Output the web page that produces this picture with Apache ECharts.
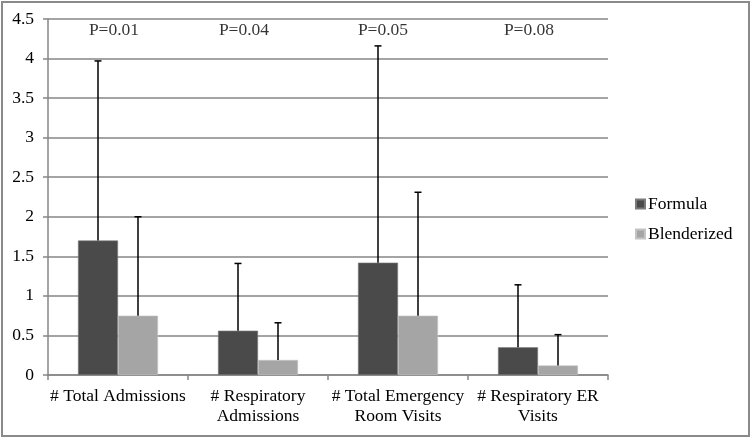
<!DOCTYPE html>
<html>
<head>
<meta charset="utf-8">
<script src="https://cdn.jsdelivr.net/npm/echarts@6/dist/echarts.min.js"></script>
<style>
html,body{margin:0;padding:0;background:#fff;}
#c{width:750px;height:437px;box-sizing:border-box;}
#frame{position:absolute;left:1px;top:1px;width:745px;height:432px;border:2px solid #8a8a8a;pointer-events:none;}
</style>
</head>
<body>
<div id="c"></div>
<div id="frame"></div>
<script>
var categories = ['# Total Admissions', '# Respiratory\nAdmissions', '# Total Emergency\nRoom Visits', '# Respiratory ER\nVisits'];
var formulaMean = [1.70, 0.56, 1.42, 0.35];
var formulaUpper = [3.97, 1.41, 4.16, 1.14];
var blendMean = [0.75, 0.19, 0.75, 0.12];
var blendUpper = [2.00, 0.66, 2.31, 0.51];
var pLabels = ['P=0.01', 'P=0.04', 'P=0.05', 'P=0.08'];
var pLabelY = 4.36;
var yTicks = [0, 0.5, 1, 1.5, 2, 2.5, 3, 3.5, 4, 4.5];

var FONT = '"Liberation Serif", "Times New Roman", serif';
var FS = 17.5;
var BAR_W = 40;
var pLabelShift = [-4, -14, -15, -9];

function errSeries(means, uppers, side) {
  return {
    type: 'custom',
    silent: true,
    z: 5,
    data: means.map(function (m, i) { return [i, m, uppers[i]]; }),
    renderItem: function (params, api) {
      var base = api.coord([api.value(0), api.value(1)]);
      var top = api.coord([api.value(0), api.value(2)]);
      var x = base[0] + side * BAR_W / 2;
      var cap = 3.5;
      return {
        type: 'group',
        children: [
          { type: 'line', shape: { x1: x, y1: base[1], x2: x, y2: top[1] }, style: { stroke: '#000', lineWidth: 1.5 } },
          { type: 'line', shape: { x1: x - cap, y1: top[1], x2: x + cap, y2: top[1] }, style: { stroke: '#000', lineWidth: 1.5 } }
        ]
      };
    }
  };
}

var chart = echarts.init(document.getElementById('c'));
chart.setOption({
  animation: false,
  backgroundColor: '#fff',
  textStyle: { fontFamily: FONT },
  grid: { left: 48, right: 142, top: 19, bottom: 62, containLabel: false },
  legend: {
    orient: 'vertical',
    left: 635,
    top: 195,
    padding: 0,
    itemWidth: 9,
    itemHeight: 9,
    itemGap: 12,
    icon: 'rect',
    data: ['Formula', 'Blenderized'],
    textStyle: { fontFamily: FONT, fontSize: FS, color: '#000', padding: [0, 0, 0, -2] }
  },
  xAxis: {
    type: 'category',
    data: categories,
    axisLine: { lineStyle: { color: '#868686', width: 1.5 } },
    axisTick: { show: true, length: 5, lineStyle: { color: '#868686', width: 1.5 } },
    axisLabel: { color: '#000', fontFamily: FONT, fontSize: FS, lineHeight: 20, margin: 11, interval: 0 }
  },
  yAxis: {
    type: 'value',
    min: 0,
    max: 4.5,
    interval: 0.5,
    axisLine: { show: true, lineStyle: { color: '#868686', width: 1.5 } },
    axisTick: { show: true, length: 5, lineStyle: { color: '#868686', width: 1.5 } },
    splitLine: { lineStyle: { color: '#868686', width: 1.5 } },
    axisLabel: {
      color: '#000', fontFamily: FONT, fontSize: FS, margin: 14,
      formatter: function (v) { return yTicks.indexOf(v) >= 0 ? String(v) : ''; }
    }
  },
  series: [
    {
      name: 'Formula', type: 'bar', data: formulaMean, barWidth: BAR_W, barGap: '0%',
      itemStyle: { color: '#4a4a4a', borderColor: '#7a7a7a', borderWidth: 0.6 }
    },
    {
      name: 'Blenderized', type: 'bar', data: blendMean, barWidth: BAR_W, barGap: '0%',
      itemStyle: { color: '#a5a5a5', borderColor: '#c4c4c4', borderWidth: 0.6 }
    },
    errSeries(formulaMean, formulaUpper, -1),
    errSeries(blendMean, blendUpper, 1),
    {
      type: 'scatter',
      silent: true,
      symbolSize: 0,
      data: pLabels.map(function (t, i) {
        return { value: [i, pLabelY], label: { offset: [pLabelShift[i], 0] } };
      }),
      label: {
        show: true,
        position: 'inside',
        color: '#000',
        fontFamily: FONT,
        fontSize: FS,
        formatter: function (p) { return pLabels[p.dataIndex]; }
      }
    }
  ]
});
</script>
</body>
</html>
